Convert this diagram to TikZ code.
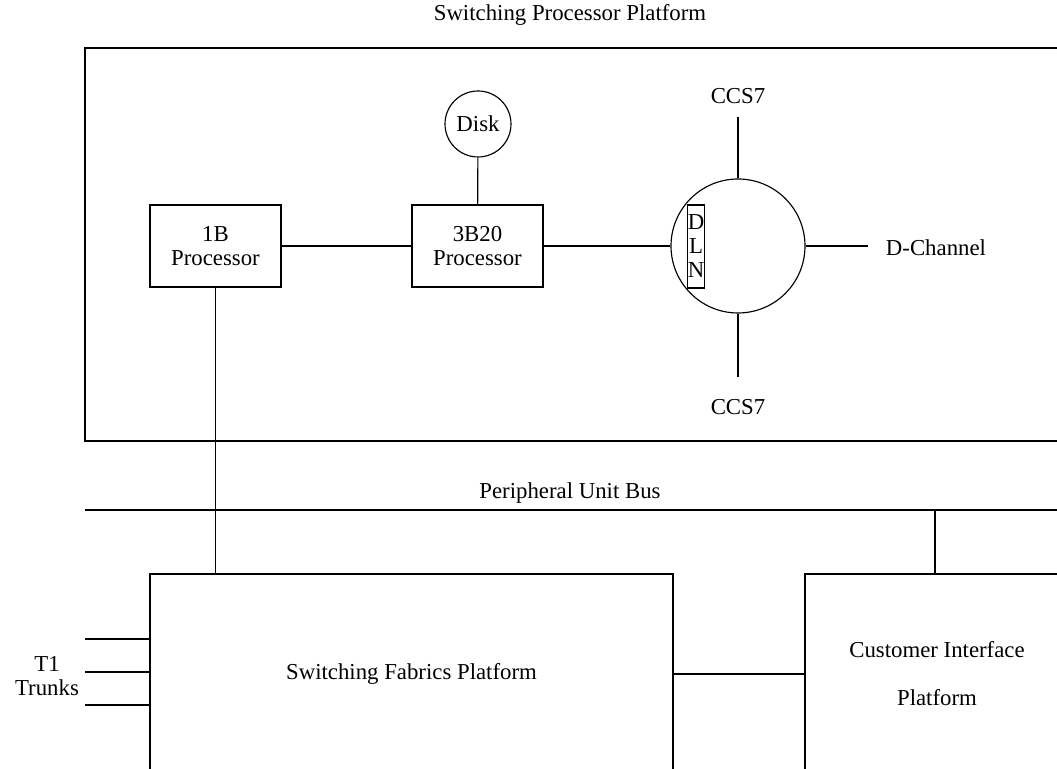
\documentclass[tikz,border=0pt]{standalone}
\usepackage{fontspec}
\setmainfont{Liberation Serif}
\usepackage{tikz}
\usetikzlibrary{shapes.geometric}

\tikzset{
  procbox/.style={draw,minimum width=65.5pt,minimum height=41pt,align=center,inner sep=0pt},
  platbox/.style={draw,minimum height=100pt,align=center,inner sep=0pt},
  roundbox/.style={draw,circle,inner sep=0pt},
}

\begin{document}
\begin{tikzpicture}[x=0.5pt,y=-0.5pt,line width=0.2mm,font=\fontsize{11.4}{12}\selectfont]
\useasboundingbox (0,0) rectangle (1057,769);
\clip (0,0) rectangle (1057,769);

% switching processor platform
\draw (85,48) rectangle (1080,441);
\node (spptitle) at (570,15) {Switching Processor Platform};

\node[procbox] (p1b) at (215.5,246) {1B\\Processor};
\node[procbox] (p3b) at (477.5,246) {3B20\\Processor};
\node[roundbox,minimum size=33pt] (disk) at (478,124) {Disk};
\node[roundbox,minimum size=67pt] (dln) at (738,246) {};
\node[draw,minimum width=8pt,minimum height=41.5pt,inner sep=0pt,align=center] (dlnbox) at (696,246.5) {D\\L\\N};

\draw (p1b) -- (p3b);
\draw (disk) -- (p3b);
\draw (p3b) -- (dln);

% links out of the DLN
\coordinate (ccsn) at (738,117);
\coordinate (ccss) at (738,377);
\coordinate (dch) at (868,246);
\node (ccsnlbl) at (738,96) {CCS7};
\node (ccsslbl) at (738,407) {CCS7};
\node (dchlbl) at (936,248) {D-Channel};
\draw (dln.north) -- (ccsn);
\draw (dln.south) -- (ccss);
\draw (dln.east) -- (dch);

% peripheral unit bus
\coordinate (busw) at (85,510);
\coordinate (buse) at (1080,510);
\coordinate (bustap) at (935,510);
\draw (busw) -- (buse);
\node (buslbl) at (570,493) {Peripheral Unit Bus};

\node[platbox,minimum width=261.5pt] (sfp) at (411.5,674) {Switching Fabrics Platform};
\node[platbox,minimum width=132pt] (cip) at (937,674) {Customer Interface\\[12pt]Platform};

\draw (p1b.south) -- (p1b.south |- sfp.north);
\draw (bustap) -- (bustap |- cip.north);
\draw (sfp) -- (cip);

% T1 trunks
\foreach \y in {639,672,705}{
  \coordinate (t\y) at (85,\y);
  \draw (t\y) -- (t\y -| sfp.west);
}
\node[align=center] (t1lbl) at (47,676) {T1\\Trunks};
\end{tikzpicture}
\end{document}
